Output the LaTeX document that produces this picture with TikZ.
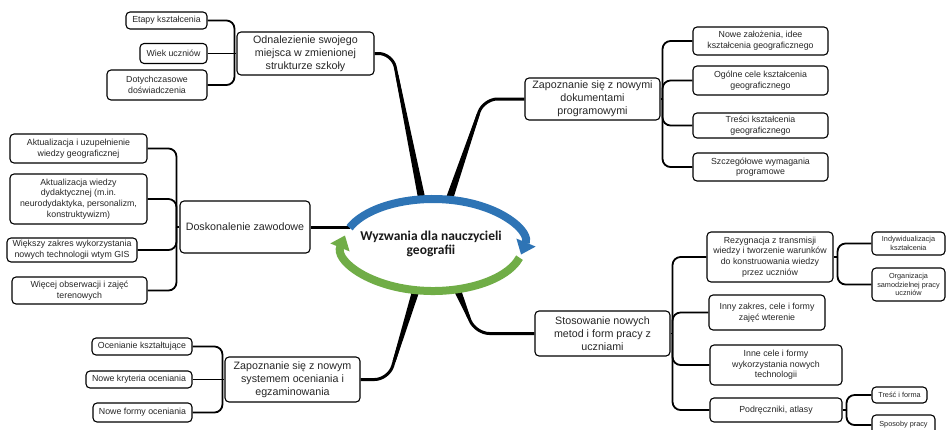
\documentclass[tikz,border=0pt]{standalone}
\usepackage{fontspec}
\setmainfont{Liberation Sans}
\newfontfamily\ctrfont{Carlito}
\usetikzlibrary{calc,arrows.meta}
\pgfdeclarelayer{bg}
\pgfsetlayers{bg,main}
\definecolor{ablue}{HTML}{2E74B5}
\definecolor{agreen}{HTML}{70AD47}
\newcommand{\mytaper}[3]{%
  \path ($(#1)!#3!(#2)$) coordinate (tp);
  \fill ($(tp)!1.5pt!90:(#2)$) -- ($(#2)!3.6pt!-90:(tp)$) -- ($(#2)!3.6pt!90:(tp)$) -- ($(tp)!1.5pt!-90:(#2)$) -- cycle;}
\begin{document}
\begin{tikzpicture}[x=1pt,y=-1pt,
  box/.style={draw=black, line width=1.1pt, fill=white, rounded corners=4pt, align=center, inner sep=1pt, text=black!85},
  mainbox/.style={box, font=\fontsize{10.7}{13}\selectfont},
  subbox/.style={box, font=\fontsize{8.8}{10.6}\selectfont},
  tinybox/.style={box, font=\fontsize{7.3}{8.4}\selectfont},
  link/.style={line width=1.8pt, rounded corners=8pt},
  trunkline/.style={line width=3pt, rounded corners=14pt},
  ringarrow/.style={line width=8pt, -{Triangle[width=20pt,length=13pt]}}
]
\useasboundingbox (0,0) rectangle (946,429);

% ---- top-left group
\node[mainbox, minimum width=137pt, minimum height=43pt] (odn) at (305.5,53.5) {Odnalezienie swojego\\miejsca w zmienionej\\strukturze szkoły};
\node[subbox, minimum width=81pt, minimum height=17pt] (etapy) at (166.5,20.5) {Etapy kształcenia};
\node[subbox, minimum width=67pt, minimum height=20pt] (wiek) at (173.5,53.5) {Wiek uczniów};
\node[subbox, minimum width=100pt, minimum height=30pt] (dot) at (157,85) {Dotychczasowe\\doświadczenia};

% ---- left group
\node[mainbox, minimum width=130pt, minimum height=52pt] (dosk) at (245,227) {Doskonalenie zawodowe};
\node[subbox, minimum width=137pt, minimum height=29pt] (akt1) at (78.5,148.5) {Aktualizacja i uzupełnienie\\wiedzy geograficznej};
\node[subbox, minimum width=137pt, minimum height=50pt] (akt2) at (78.5,199) {Aktualizacja wiedzy\\dydaktycznej (m.in.\\neurodydaktyka, personalizm,\\konstruktywizm)};
\node[subbox, minimum width=130pt, minimum height=24pt] (wiek2) at (72,250) {Większy zakres wykorzystania\\nowych technologii wtym GIS};
\node[subbox, minimum width=135pt, minimum height=27pt] (wiec) at (79.5,290.5) {Więcej obserwacji i zajęć\\terenowych};

% ---- bottom-left group
\node[mainbox, minimum width=135pt, minimum height=45pt] (sys) at (292.5,379.5) {Zapoznanie się z nowym\\systemem oceniania i\\egzaminowania};
\node[subbox, minimum width=100pt, minimum height=17pt] (ocen) at (142,346.5) {Ocenianie kształtujące};
\node[subbox, minimum width=106pt, minimum height=17pt] (kryt) at (139,379.5) {Nowe kryteria oceniania};
\node[subbox, minimum width=99pt, minimum height=19pt] (form) at (142.5,412.5) {Nowe formy oceniania};

% ---- top-right group
\node[mainbox, minimum width=135pt, minimum height=42pt] (dok) at (592.5,99) {Zapoznanie się z nowymi\\dokumentami\\programowymi};
\node[subbox, minimum width=135pt, minimum height=28pt] (zal) at (760.5,41) {Nowe założenia, idee\\kształcenia geograficznego};
\node[subbox, minimum width=135pt, minimum height=29pt] (ogol) at (760.5,80.5) {Ogólne cele kształcenia\\geograficznego};
\node[subbox, minimum width=135pt, minimum height=25pt] (tres) at (760.5,125.5) {Treści kształcenia\\geograficznego};
\node[subbox, minimum width=135pt, minimum height=28pt] (szcz) at (760.5,167) {Szczegółowe wymagania\\programowe};

% ---- bottom-right group
\node[mainbox, minimum width=135pt, minimum height=45pt] (sto) at (602.5,333.5) {Stosowanie nowych\\metod i form pracy z\\uczniami};
\node[subbox, minimum width=126pt, minimum height=50pt] (rez) at (770,257) {Rezygnacja z transmisji\\wiedzy i tworzenie warunków\\do konstruowania wiedzy\\przez uczniów};
\node[tinybox, minimum width=73pt, minimum height=23pt] (ind) at (908.5,243.5) {Indywidualizacja\\kształcenia};
\node[tinybox, minimum width=73pt, minimum height=33pt] (org) at (908.5,284.5) {Organizacja\\samodzielnej pracy\\uczniów};
\node[subbox, minimum width=116pt, minimum height=35pt] (inny) at (767,312.5) {Inny zakres, cele i formy\\zajęć wterenie};
\node[subbox, minimum width=132pt, minimum height=40pt] (inne) at (776,365) {Inne cele i formy\\wykorzystania nowych\\technologii};
\node[subbox, minimum width=132pt, minimum height=24pt] (podr) at (776,410) {Podręczniki, atlasy};
\node[tinybox, minimum width=55pt, minimum height=16pt] (tr) at (899.5,395) {Treść i forma};
\node[tinybox, minimum width=63pt, minimum height=20pt] (spos) at (903.5,425) {Sposoby pracy};

% ---- centre
\node[font=\ctrfont\bfseries\fontsize{13.5}{14.5}\selectfont, align=center, text=black!90] (ctr) at (431,244) {Wyzwania dla nauczycieli\\geografii};

\coordinate (e1) at (422,200);
\coordinate (e2) at (449,200);
\coordinate (e3) at (350,227);
\coordinate (e4) at (416,290);
\coordinate (e5) at (457,289);

\begin{pgfonlayer}{bg}
  % sub connectors, left side
  \coordinate (odnT) at ($(odn.west)+(-2,0)$);
  \draw[link] (etapy.east) -| (odnT);
  \draw[link] (dot.east) -| (odnT);
  \draw[link] (wiek.east) -- (odn.west);
  \draw[link] (odnT) -- (odn.west);

  \coordinate (doskT) at ($(dosk.west)+(-3,0)$);
  \draw[link] (akt1.east) -| (doskT);
  \draw[link] (akt2.east) -| (doskT);
  \draw[link] (wiek2.east) -| (doskT);
  \draw[link] (wiec.east) -| (doskT);
  \draw[link] (doskT) -- (dosk.west);

  \coordinate (sysT) at ($(sys.west)+(-2,0)$);
  \draw[link] (ocen.east) -| (sysT);
  \draw[link] (form.east) -| (sysT);
  \draw[link] (kryt.east) -- (sys.west);

  % sub connectors, right side
  \coordinate (dokT) at ($(dok.east)+(2,0)$);
  \draw[link] (dok.east) -- (dokT);
  \draw[link] (dokT) |- (zal.west);
  \draw[link] (dokT) |- (ogol.west);
  \draw[link] (dokT) |- (tres.west);
  \draw[link] (dokT) |- (szcz.west);

  \coordinate (stoT) at ($(sto.east)+(2,0)$);
  \draw[link] (sto.east) -- (stoT);
  \draw[link] (stoT) |- (rez.west);
  \draw[link] (stoT) |- (inny.west);
  \draw[link] (stoT) |- (inne.west);
  \draw[link] (stoT) |- (podr.west);

  \coordinate (rezT) at ($(rez.east)+(4,0)$);
  \draw[link] (rez.east) -- (rezT);
  \draw[link] (rezT) |- (ind.west);
  \draw[link] (rezT) |- (org.west);

  \coordinate (podrT) at ($(podr.east)+(4,0)$);
  \draw[link] (podr.east) -- (podrT);
  \draw[link] (podrT) |- (tr.west);
  \draw[link] (podrT) |- (spos.west);

  % main thick connectors
  \coordinate (b1) at ($(odn.east)+(18,0)$);
  \draw[trunkline] (odn.east) -- (b1) -- (e1);
  \mytaper{b1}{e1}{0.15}

  \coordinate (b2) at ($(dok.west)+(-41,0)$);
  \draw[trunkline] (dok.west) -- (b2) -- (e2);
  \mytaper{b2}{e2}{0.15}

  \draw[trunkline] (dosk.east) -- (e3);

  \coordinate (b4) at ($(sys.east)+(28,0)$);
  \draw[trunkline] (sys.east) -- (b4) -- (e4);
  \mytaper{b4}{e4}{0.2}

  \coordinate (b5) at ($(sto.west)+(-59,0)$);
  \draw[trunkline] (e5) -- (b5) -- (sto.west);
  \mytaper{b5}{e5}{0.35}
\end{pgfonlayer}

% ---- ring arrows around the centre
\coordinate (rc) at (433,245);
\draw[ringarrow, agreen] (rc) ++(16:90 and 46) arc[start angle=16, end angle=192, x radius=90, y radius=46];
\draw[ringarrow, ablue] (rc) ++(-158:90 and 46) arc[start angle=-158, end angle=12, x radius=90, y radius=46];
\end{tikzpicture}
\end{document}
